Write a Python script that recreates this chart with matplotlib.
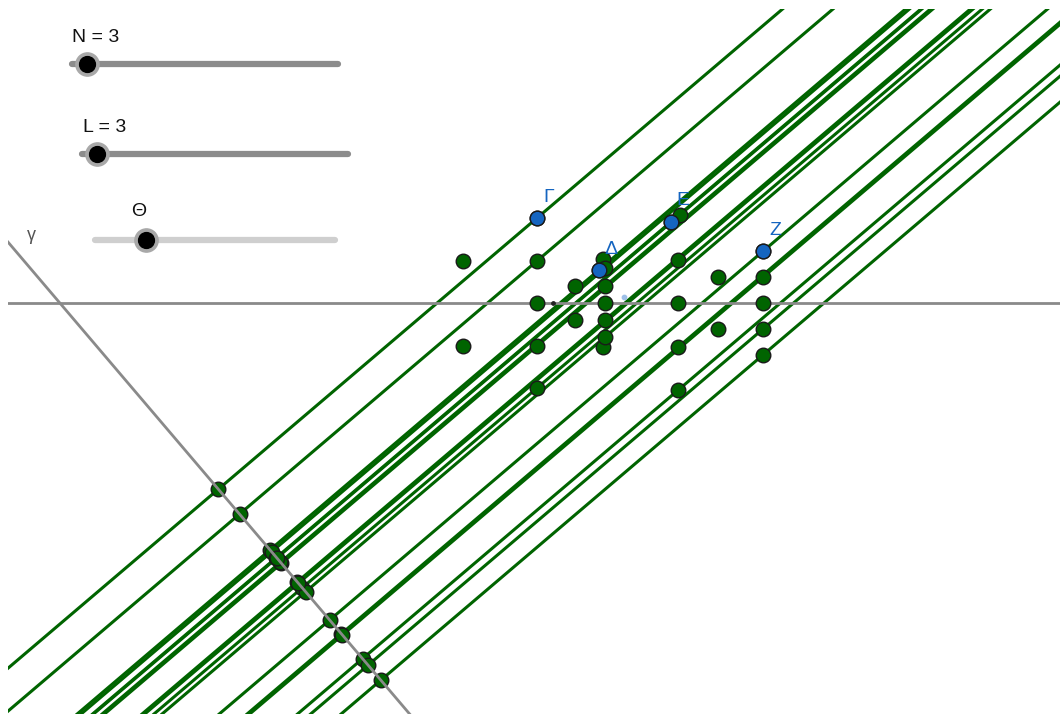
import numpy as np
import matplotlib
matplotlib.use("Agg")
import matplotlib.pyplot as plt

plt.rcParams['font.family'] = ['Liberation Sans', 'DejaVu Sans']

# projection angle (degrees) of the parallel lines and offset of line gamma
theta_deg = 40.4
gamma_offset = -8.55

# labelled (blue) points
blue_names = ['Γ', 'Δ', 'Ε', 'Ζ']
blue_x = [0.00, 1.46, 3.15, 5.32]
blue_y = [2.00, 0.78, 1.91, 1.22]

# green points that are projected onto gamma (a line through each)
proj_x = [0.00, 0.00, 0.00, 0.00, 1.46, 1.60, 1.60, 1.60, 1.60, 3.15, 3.36,
          3.32, 3.32, 3.32, 5.32, 5.32, 5.32, 5.32]
proj_y = [2.00, 0.99, -1.01, -2.00, 0.78, 0.82, 0.40, -0.40, -0.80, 1.91, 2.07,
          1.01, -1.04, -2.05, 1.22, 0.61, -0.61, -1.22]

# other green points (no projection line)
other_x = [-1.74, -1.74, 0.00, 0.89, 0.89, 1.55, 1.60, 1.55, 3.32, 4.26, 4.26, 5.32]
other_y = [0.99, -1.01, 0.00, 0.40, -0.40, 1.04, 0.00, -1.04, 0.00, 0.61, -0.61, 0.00]

GREEN = '#006400'
BLUE = '#1565c0'
GRAY = '#8a8a8a'

fig = plt.figure(figsize=(10.6, 7.14), dpi=100)
ax = fig.add_axes([8 / 1060, 0, 1052 / 1060, 705 / 714])
ax.set_xlim(-12.447, 12.306)
ax.set_ylim(-9.671, 6.918)
ax.set_aspect('equal')
ax.axis('off')

th = np.radians(theta_deg)
n = np.array([np.cos(th), np.sin(th)])
slope = np.tan(th)

# horizontal axis and gamma
ax.axhline(0, color=GRAY, lw=2, zorder=3)
gp = gamma_offset * n
ax.axline(gp, slope=-1 / slope, color=GRAY, lw=2, zorder=5)
ax.text(-11.9, 1.6, 'γ', color='#555555', fontsize=13, ha='center', va='center')

# projection lines and feet on gamma
px = np.array(proj_x)
py = np.array(proj_y)
for x, y in zip(px, py):
    ax.axline((x, y), slope=slope, color=GREEN, lw=2.2, zorder=2)
d = px * n[0] + py * n[1] - gamma_offset
fx = px - d * n[0]
fy = py - d * n[1]
ax.scatter(fx, fy, s=110, color=GREEN, edgecolor='#1a1a1a', lw=1, zorder=4)

# points
ax.scatter(other_x, other_y, s=110, color=GREEN, edgecolor='#1a1a1a', lw=1, zorder=6)
ax.scatter(proj_x, proj_y, s=110, color=GREEN, edgecolor='#1a1a1a', lw=1, zorder=6)
ax.scatter(blue_x, blue_y, s=110, color=BLUE, edgecolor='#1a1a1a', lw=1, zorder=7)
for name, x, y in zip(blue_names, blue_x, blue_y):
    ax.annotate(name, (x, y), xytext=(8.5, 15), textcoords='offset points',
                color=BLUE, fontsize=14, ha='center', va='center', zorder=8)

# small auxiliary dots
ax.scatter([0.38], [0.0], s=6, color='#222222', zorder=6)
ax.scatter([2.05], [0.14], s=10, color='#9fc0e8', zorder=6)

# sliders (screen overlay in pixels)
ui = fig.add_axes([0, 0, 1, 1])
ui.set_xlim(0, 1060)
ui.set_ylim(714, 0)
ui.axis('off')

sliders = [
    ('N = 3', 72, 38, 'left', 72, 338, 64, 87, '#8c8c8c'),
    ('L = 3', 83, 128, 'left', 82, 348, 154, 97, '#8c8c8c'),
    ('Θ', 139, 212, 'center', 95, 335, 240, 146, '#cfcfcf'),
]
for label, tx, ty, ha, x0, x1, yy, kx, col in sliders:
    ui.text(tx, ty, label, fontsize=14, ha=ha, va='center', color='#111111')
    ui.plot([x0, x1], [yy, yy], color=col, lw=4.5, solid_capstyle='round')
    ui.scatter([kx], [yy], s=280, color='#a8a8a8', zorder=3)
    ui.scatter([kx], [yy], s=130, color='black', zorder=4)

fig.savefig('out.png', dpi=100)
